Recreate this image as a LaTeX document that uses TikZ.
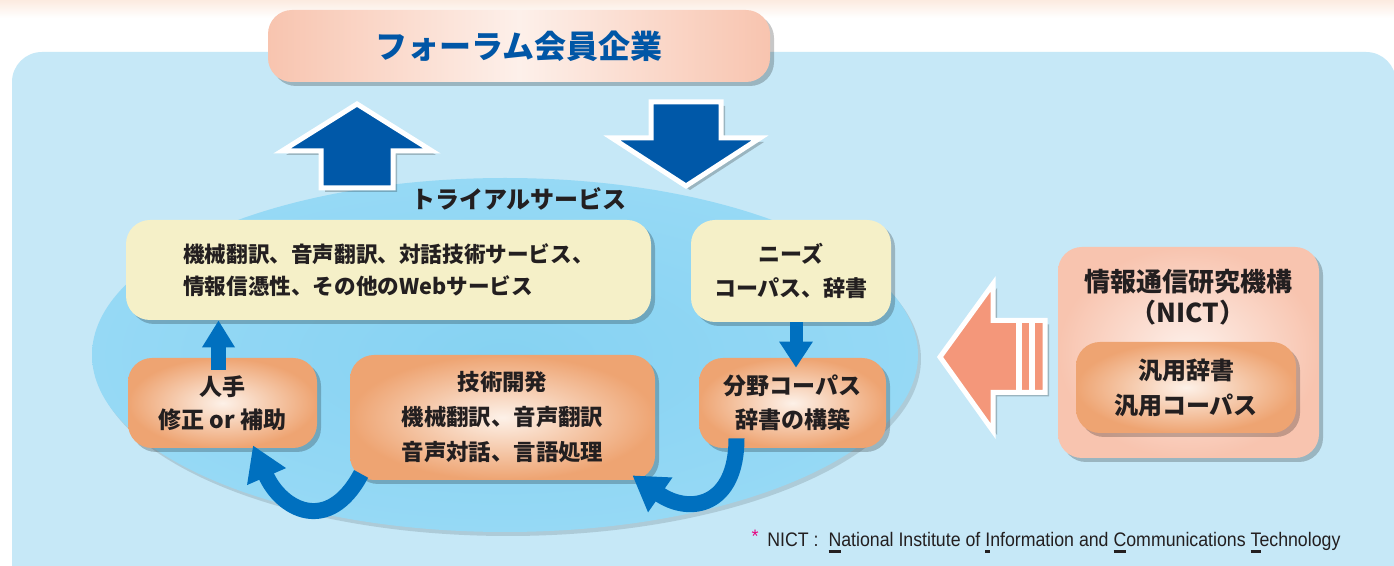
\documentclass[tikz,border=0pt]{standalone}
\usepackage{fontspec}
\usepackage{graphicx}
\setmainfont{Noto Sans CJK JP}
\newfontfamily\notefont{Liberation Sans}
\usetikzlibrary{shadows,arrows.meta,shapes.geometric}
\definecolor{panelblue}{HTML}{C6E8F7}
\definecolor{ovalin}{HTML}{86D2F2}
\definecolor{ovalout}{HTML}{96D9F5}
\definecolor{peach}{HTML}{F8C4AF}
\definecolor{peachlight}{HTML}{FDF0EA}
\definecolor{orangeout}{HTML}{EEA472}
\definecolor{orangein}{HTML}{FDF1E8}
\definecolor{cream}{HTML}{F5F0C8}
\definecolor{bigblue}{HTML}{0058A8}
\definecolor{midblue}{HTML}{0070BF}
\definecolor{titleblue}{HTML}{0056A6}
\definecolor{salmon}{HTML}{F4977A}
\definecolor{ink}{HTML}{231F20}
\definecolor{astred}{HTML}{E6007E}
\definecolor{topband}{HTML}{FCEBE0}
\newcommand\myul[1]{\setbox0\hbox{#1}\rlap{\rule[-2.8pt]{\wd0}{1.3pt}}#1}
\begin{document}
\begin{tikzpicture}[x=0.5pt,y=-0.5pt,
  every node/.style={text=ink},
  shadowed/.style={drop shadow={shadow xshift=2pt,shadow yshift=-2pt,opacity=0.22,fill=black}},
  card/.style={rounded corners=12pt,inner sep=0pt,align=center,shadowed,
               font=\bfseries\fontsize{11.2}{17}\selectfont},
  creambox/.style={card,fill=cream},
  orangebox/.style={card,inner color=orangein,outer color=orangeout},
  bigarrow/.style={draw=white,line width=2.5pt,line join=miter,shadowed},
  curvearrow/.style={draw=midblue,line width=8pt,-{Triangle[width=20pt,length=17pt]}},
  straightarrow/.style={draw=midblue,line width=7.5pt,-{Triangle[width=15.5pt,length=13.5pt]}},
  thinarrow/.style={draw=midblue,line width=6.5pt,-{Triangle[width=16pt,length=13pt]}}]
\useasboundingbox (0,0) rectangle (1394,566);
\clip (0,0) rectangle (1394,566);
\fill[white] (0,0) rectangle (1394,566);
\shade[top color=topband,bottom color=white] (0,0) rectangle (1394,18);
% panel
\fill[panelblue,rounded corners=15pt] (12,52) rectangle (1396,620);
% oval
\node[ellipse,minimum width=413pt,minimum height=177pt,inner sep=0pt,
      inner color=ovalin,outer color=ovalout,
      drop shadow={shadow xshift=1.5pt,shadow yshift=-2pt,opacity=0.12,fill=black}]
      (oval) at (505,355) {};
% title
\node[card,minimum width=251pt,minimum height=36pt,left color=peach,right color=peach,
      middle color=peachlight,font=\bfseries\fontsize{16}{16}\selectfont,text=titleblue]
      (members) at (519,46) {フォーラム会員企業};
% big arrows
\path[bigarrow,fill=bigblue] (357,104) -- (432,151) -- (393,151) -- (393,188)
      -- (321,188) -- (321,151) -- (282,151) -- cycle;
\path[bigarrow,fill=bigblue] (651,102) -- (721,102) -- (721,138) -- (760,138)
      -- (686,186) -- (612,138) -- (651,138) -- cycle;
\path[bigarrow,fill=salmon] (940,357) -- (993,284) -- (993,320.5) -- (1045,320.5)
      -- (1045,392.5) -- (993,392.5) -- (993,431) -- cycle;
\draw[white,line width=3pt] (1019,320.5) -- (1019,392.5);
\draw[white,line width=3pt] (1032,320.5) -- (1032,392.5);
% trial label
\node[font=\bfseries\fontsize{12}{12}\selectfont] (trial) at (519,199) {トライアルサービス};
% boxes
\node[creambox,minimum width=262.5pt,minimum height=50pt,align=left,
      font=\bfseries\fontsize{10.8}{16}\selectfont] (services) at (388.5,270)
      {機械翻訳、音声翻訳、対話技術サービス、\\情報信憑性、その他のWebサービス};
\node[orangebox,minimum width=94.5pt,minimum height=45pt,
      font=\bfseries\fontsize{11.5}{16.5}\selectfont] (hito) at (222.5,403)
      {人手\\修正 or 補助};
\node[orangebox,minimum width=152.5pt,minimum height=62.5pt,
      font=\bfseries\fontsize{11.2}{17.5}\selectfont] (tech) at (502.5,417.5)
      {技術開発\\機械翻訳、音声翻訳\\音声対話、言語処理};
\node[creambox,minimum width=100pt,minimum height=51pt,
      font=\bfseries\fontsize{11}{17}\selectfont] (needs) at (791,271)
      {ニーズ\\コーパス、辞書};
\node[orangebox,minimum width=93.5pt,minimum height=45pt,
      font=\bfseries\fontsize{11.5}{17}\selectfont] (bunya) at (792.5,403)
      {分野コーパス\\辞書の構築};
% NICT
\node[card,minimum width=130.5pt,minimum height=105.5pt,inner color=peachlight,
      outer color=peach] (nict) at (1188.5,352.5) {};
\node[font=\bfseries\fontsize{13}{15.5}\selectfont,align=center] (nictlabel) at (1188,297)
      {情報通信研究機構\\（NICT）};
\node[orangebox,minimum width=110pt,minimum height=45.5pt,
      font=\bfseries\fontsize{12}{17.5}\selectfont] (general) at (1186,387.5)
      {汎用辞書\\汎用コーパス};
% small arrows
\draw[straightarrow] ([xshift=-2pt,yshift=-6pt]hito.north) -- ([xshift=-85pt]services.south);
\draw[thinarrow] ([xshift=2.5pt]needs.south) -- ([xshift=1.75pt,yshift=-5pt]bunya.north);
\draw[curvearrow] ([xshift=5.75pt,yshift=3.25pt]tech.south west)
      to[out=-118,in=-66.5,looseness=1.6] ([xshift=15.25pt,yshift=1.5pt]hito.south);
\draw[curvearrow] ([xshift=-28pt,yshift=5pt]bunya.south)
      to[out=-90,in=-35,looseness=1.6] ([xshift=-11.5pt,yshift=2.5pt]tech.south east);
% footnote
\node[text=astred,font=\notefont\fontsize{9}{9}\selectfont,inner sep=0pt] (ast) at (755,536) {*};
\node[anchor=base west,inner sep=0pt,font=\notefont\fontsize{9.8}{12}\selectfont] (note) at (767,547)
  {\resizebox{286.5pt}{\height}{NICT :\ \ \myul{N}ational Institute of \myul{I}nformation and \myul{C}ommunications \myul{T}echnology}};
\end{tikzpicture}
\end{document}
